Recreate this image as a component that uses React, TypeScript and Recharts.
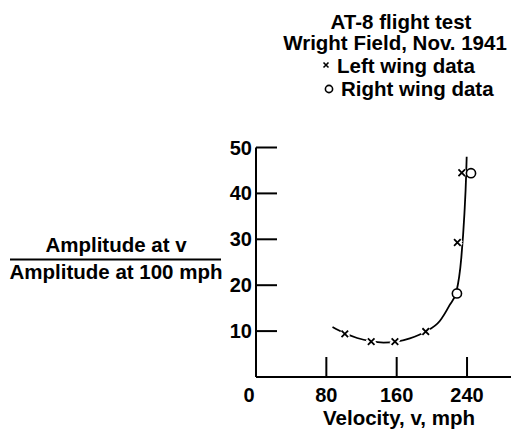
import React from "react";
import { ComposedChart, XAxis, YAxis, Line, Scatter } from "recharts";

const velocityTicks = [0, 80, 160, 240];
const amplitudeTicks = [0, 10, 20, 30, 40, 50];

const leftWingVelocity = [101, 131, 158, 193, 229, 234];
const leftWingAmplitude = [9.4, 7.7, 7.7, 9.9, 29.3, 44.5];

const rightWingVelocity = [228.5, 244.5];
const rightWingAmplitude = [18.2, 44.4];

const curveVelocity = [87, 100, 115, 130, 145, 160, 175, 193, 209, 220, 228, 233.5, 237, 239, 239.6];
const curveAmplitude = [10.9, 9.6, 8.5, 7.8, 7.5, 7.7, 8.4, 9.9, 12.2, 15.6, 18.7, 26, 35.5, 44, 48];

const titleLines = ["AT-8 flight test", "Wright Field, Nov. 1941"];
const legendLabels = ["Left wing data", "Right wing data"];
const yLabelTop = "Amplitude at v";
const yLabelBottom = "Amplitude at 100 mph";
const xLabel = "Velocity, v, mph";

const leftData = leftWingVelocity.map((x, i) => ({ x, y: leftWingAmplitude[i] }));
const rightData = rightWingVelocity.map((x, i) => ({ x, y: rightWingAmplitude[i] }));
const curveData = curveVelocity.map((x, i) => ({ x, y: curveAmplitude[i] }));

const FONT = "'Liberation Sans', Arial, Helvetica, sans-serif";

const XMark = (props: any) => {
  const { cx, cy } = props;
  const s = 3.3;
  return (
    <g>
      <path d={`M${cx - s},${cy - s}L${cx + s},${cy + s}M${cx - s},${cy + s}L${cx + s},${cy - s}`} stroke="#fff" strokeWidth={6} />
      <path d={`M${cx - s},${cy - s}L${cx + s},${cy + s}M${cx - s},${cy + s}L${cx + s},${cy - s}`} stroke="#000" strokeWidth={1.8} />
    </g>
  );
};

const OMark = (props: any) => {
  const { cx, cy } = props;
  return <circle cx={cx} cy={cy} r={4.6} fill="#fff" stroke="#000" strokeWidth={1.6} />;
};

const XTick = (props: any) => {
  const { x, y, payload } = props;
  const v = payload.value;
  if (v === 0) {
    return (
      <text x={x - 7} y={y + 25} textAnchor="middle" fontFamily={FONT} fontWeight="bold" fontSize={20} fill="#000">
        {v}
      </text>
    );
  }
  return (
    <g>
      <line x1={x} y1={y} x2={x} y2={y - 20} stroke="#000" strokeWidth={2} />
      <text x={x} y={y + 25} textAnchor="middle" fontFamily={FONT} fontWeight="bold" fontSize={20} fill="#000">
        {v}
      </text>
    </g>
  );
};

const YTick = (props: any) => {
  const { x, y, payload } = props;
  const v = payload.value;
  if (v === 0) return <g />;
  return (
    <g>
      <line x1={x} y1={y} x2={x + 21} y2={y} stroke="#000" strokeWidth={2} />
      <text x={x - 4} y={y + 7} textAnchor="end" fontFamily={FONT} fontWeight="bold" fontSize={20} fill="#000">
        {v}
      </text>
    </g>
  );
};

export default function App() {
  return (
    <div style={{ position: "absolute", left: 0, top: 0, width: 511, height: 432, background: "#fff" }}>
      <ComposedChart
        width={511}
        height={432}
        margin={{ top: 147.5, right: 0, bottom: 25, left: 216 }}
      >
        <XAxis
          type="number"
          dataKey="x"
          domain={[0, 290]}
          ticks={velocityTicks}
          interval={0}
          height={30}
          tickSize={0}
          tickMargin={0}
          tickLine={false}
          tick={<XTick />}
          axisLine={{ stroke: "#000", strokeWidth: 2 }}
          allowDataOverflow
        />
        <YAxis
          type="number"
          dataKey="y"
          domain={[0, 50]}
          ticks={amplitudeTicks}
          interval={0}
          width={40}
          tickSize={0}
          tickMargin={0}
          tickLine={false}
          tick={<YTick />}
          axisLine={{ stroke: "#000", strokeWidth: 2 }}
          allowDataOverflow
        />
        <Line
          data={curveData}
          dataKey="y"
          type="monotone"
          stroke="#000"
          strokeWidth={1.8}
          dot={false}
          activeDot={false}
          isAnimationActive={false}
        />
        <Scatter data={leftData} dataKey="y" shape={<XMark />} isAnimationActive={false} />
        <Scatter data={rightData} dataKey="y" shape={<OMark />} isAnimationActive={false} />
      </ComposedChart>
      <svg
        width={511}
        height={432}
        style={{ position: "absolute", left: 0, top: 0, pointerEvents: "none" }}
      >
        <g fontFamily={FONT} fontWeight="bold" fontSize={20.5} fill="#000">
          <text x={401} y={28.5} textAnchor="middle">{titleLines[0]}</text>
          <text x={395} y={49.5} textAnchor="middle">{titleLines[1]}</text>
          <path d="M323.5,62.5L328.5,67.5M323.5,67.5L328.5,62.5" stroke="#000" strokeWidth={1.6} />
          <text x={337} y={72.5}>{legendLabels[0]}</text>
          <circle cx={329} cy={89} r={3.6} fill="none" stroke="#000" strokeWidth={1.6} />
          <text x={341} y={96}>{legendLabels[1]}</text>
          <text x={116} y={252} textAnchor="middle">{yLabelTop}</text>
          <line x1={10} y1={259.5} x2={221} y2={259.5} stroke="#000" strokeWidth={2} />
          <text x={116} y={279} textAnchor="middle">{yLabelBottom}</text>
          <text x={399} y={425} textAnchor="middle">{xLabel}</text>
        </g>
      </svg>
    </div>
  );
}
